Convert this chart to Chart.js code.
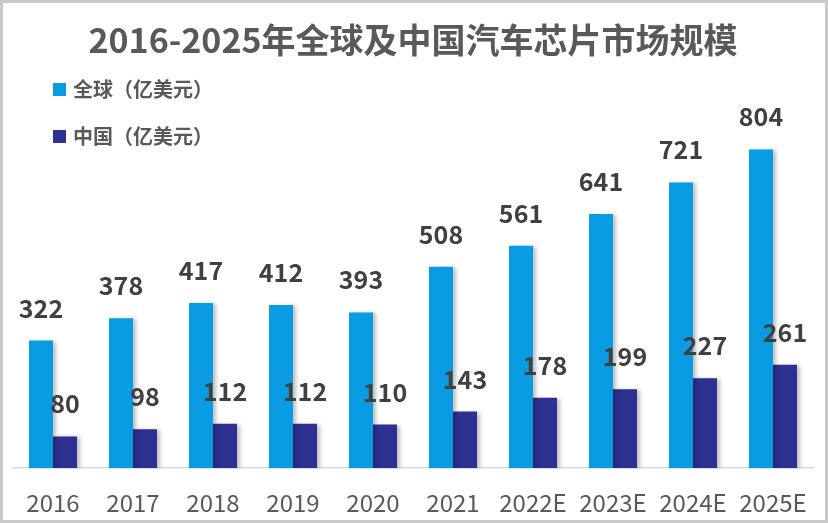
<!DOCTYPE html>
<html>
<head>
<meta charset="utf-8">
<script src="https://cdn.jsdelivr.net/npm/chart.js@4"></script>
<style>
  html, body { margin: 0; padding: 0; background: #fff; }
  #wrap { position: relative; width: 828px; height: 523px; }
  #frame { position: absolute; left: 0; top: 0; width: 828px; height: 523px; box-sizing: border-box;
    border: 3px solid #c9c9c9; pointer-events: none; }
  #legend { position: absolute; left: 53px; top: 74px; font: bold 20px "Noto Sans CJK SC", sans-serif; color: #595959; }
  #legend div { height: 30px; line-height: 30px; margin-bottom: 17px; display: flex; align-items: center; }
  #legend span { display: inline-block; width: 13px; height: 13px; margin-right: 7px; }
</style>
</head>
<body>
<div id="wrap">
  <canvas id="chart" width="828" height="523"></canvas>
  <div id="legend"></div>
  <div id="frame"></div>
</div>
<script>
const TITLE = '2016-2025年全球及中国汽车芯片市场规模';
const years = ['2016', '2017', '2018', '2019', '2020', '2021', '2022E', '2023E', '2024E', '2025E'];
const globalLabel = '全球（亿美元）';
const chinaLabel = '中国（亿美元）';
const globalValues = [322, 378, 417, 412, 393, 508, 561, 641, 721, 804];
const chinaValues = [80, 98, 112, 112, 110, 143, 178, 199, 227, 261];
const GLOBAL_COLOR = '#0a9ce2';
const CHINA_COLOR = '#2e3192';

// 막대 위 값 표시
const valueLabels = {
  id: 'valueLabels',
  afterDatasetsDraw(chart) {
    const ctx = chart.ctx;
    ctx.save();
    ctx.font = 'bold 25px "Noto Sans CJK SC", sans-serif';
    ctx.fillStyle = '#404040';
    ctx.textAlign = 'center';
    ctx.textBaseline = 'alphabetic';
    chart.data.datasets.forEach((ds, i) => {
      chart.getDatasetMeta(i).data.forEach((bar, j) => {
        ctx.fillText(ds.data[j], bar.x, bar.y - 23);
      });
    });
    ctx.restore();
  }
};

// 막대 그림자
const barShadow = {
  id: 'barShadow',
  beforeDatasetDraw(chart) {
    const ctx = chart.ctx;
    ctx.save();
    ctx.shadowColor = 'rgba(0,0,0,0.25)';
    ctx.shadowBlur = 4;
    ctx.shadowOffsetX = 3;
    ctx.shadowOffsetY = 1;
  },
  afterDatasetDraw(chart) {
    chart.ctx.restore();
  }
};

const legend = document.getElementById('legend');
[[globalLabel, GLOBAL_COLOR], [chinaLabel, CHINA_COLOR]].forEach(([text, color]) => {
  const row = document.createElement('div');
  row.innerHTML = `<span style="background:${color}"></span>${text}`;
  legend.appendChild(row);
});

new Chart(document.getElementById('chart'), {
  type: 'bar',
  data: {
    labels: years,
    datasets: [
      { label: globalLabel, data: globalValues, backgroundColor: GLOBAL_COLOR },
      { label: chinaLabel, data: chinaValues, backgroundColor: CHINA_COLOR }
    ]
  },
  options: {
    responsive: false,
    animation: false,
    layout: { padding: { left: 13, right: 15, top: 0, bottom: -14 } },
    datasets: { bar: { categoryPercentage: 0.6, barPercentage: 1 } },
    plugins: {
      legend: { display: false },
      tooltip: { enabled: false },
      title: {
        display: true,
        text: TITLE,
        color: '#595959',
        font: { family: '"Noto Sans CJK SC", sans-serif', size: 34, weight: 'bold' },
        padding: { top: 20, bottom: 11 }
      }
    },
    scales: {
      x: {
        grid: { display: false, drawTicks: false },
        border: { display: true, color: '#d9d9d9', width: 1.5 },
        ticks: {
          color: '#595959',
          padding: 20,
          font: { family: '"Noto Sans CJK SC", sans-serif', size: 24 }
        }
      },
      y: { display: false, min: 0, max: 1000 }
    }
  },
  plugins: [barShadow, valueLabels]
});
</script>
</body>
</html>
